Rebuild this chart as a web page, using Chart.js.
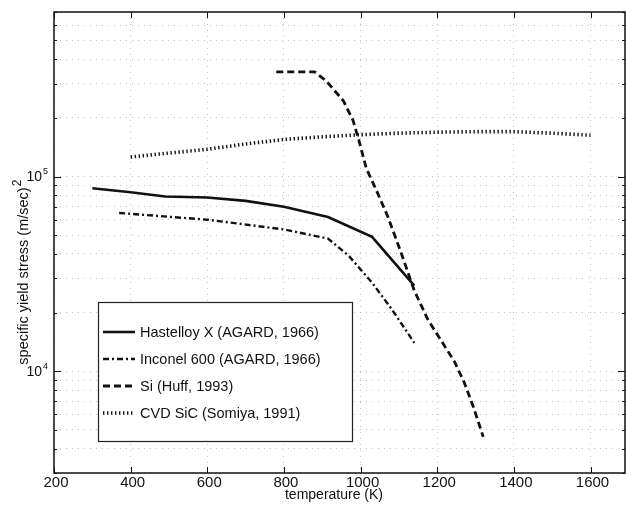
<!DOCTYPE html>
<html>
<head>
<meta charset="utf-8">
<script src="https://cdn.jsdelivr.net/npm/chart.js@4"></script>
<style>
  html, body { margin: 0; padding: 0; background: #fff; }
  #wrap { width: 626px; height: 506px; }
</style>
</head>
<body>
<div id="wrap"><canvas id="yieldChart"></canvas></div>
<script>
// temperature (K) and specific yield stress (m/sec)^2
const hastelloyT = [300, 400, 490, 600, 700, 800, 915, 1030, 1140];
const hastelloyS = [8.7e4, 8.3e4, 7.9e4, 7.8e4, 7.5e4, 7.0e4, 6.2e4, 4.9e4, 2.75e4];

const inconelT = [370, 600, 800, 915, 970, 1030, 1080, 1140];
const inconelS = [6.5e4, 6.0e4, 5.35e4, 4.8e4, 3.9e4, 2.85e4, 2.1e4, 1.4e4];

const siT = [780, 880, 910, 955, 980, 995, 1015, 1040, 1070, 1105, 1140, 1175, 1245, 1270, 1295, 1320];
const siS = [3.45e5, 3.45e5, 3.1e5, 2.45e5, 1.95e5, 1.55e5, 1.1e5, 8.6e4, 6.3e4, 4.1e4, 2.6e4, 1.85e4, 1.12e4, 8.8e3, 6.5e3, 4.6e3];

const sicT = [400, 500, 600, 700, 800, 900, 1000, 1100, 1200, 1300, 1400, 1500, 1600];
const sicS = [1.26e5, 1.32e5, 1.38e5, 1.47e5, 1.55e5, 1.6e5, 1.64e5, 1.67e5, 1.69e5, 1.7e5, 1.7e5, 1.67e5, 1.63e5];

const seriesLabels = ['Hastelloy X (AGARD, 1966)', 'Inconel 600 (AGARD, 1966)', 'Si (Huff, 1993)', 'CVD SiC (Somiya, 1991)'];
const xTicks = [200, 400, 600, 800, 1000, 1200, 1400, 1600];
const yDecades = [1e4, 1e5];
const yMinor = [3e3, 4e3, 5e3, 6e3, 7e3, 8e3, 9e3, 1e4, 2e4, 3e4, 4e4, 5e4, 6e4, 7e4, 8e4, 9e4, 1e5, 2e5, 3e5, 4e5, 5e5, 6e5, 7e5];

const FONT = '"Liberation Sans", Arial, Helvetica, sans-serif';

function pts(xs, ys) {
    return xs.map((x, i) => ({ x: x, y: ys[i] }));
}

// frame, inward ticks, tick labels, axis titles and the boxed legend
const decorations = {
    id: 'decorations',
    afterDraw(chart) {
        const ctx = chart.ctx;
        const a = chart.chartArea;
        const xs = chart.scales.x;
        const ys = chart.scales.y;
        ctx.save();
        ctx.strokeStyle = '#111';
        ctx.fillStyle = '#111';
        ctx.lineWidth = 1.5;
        ctx.strokeRect(a.left, a.top, a.right - a.left, a.bottom - a.top);

        ctx.lineWidth = 1;
        ctx.beginPath();
        xTicks.forEach(t => {
            const px = Math.round(xs.getPixelForValue(t)) + 0.5;
            ctx.moveTo(px, a.bottom); ctx.lineTo(px, a.bottom - 6);
            ctx.moveTo(px, a.top); ctx.lineTo(px, a.top + 6);
        });
        yMinor.forEach(v => {
            const py = Math.round(ys.getPixelForValue(v)) + 0.5;
            const len = yDecades.includes(v) ? 7 : 3;
            ctx.moveTo(a.left, py); ctx.lineTo(a.left + len, py);
            ctx.moveTo(a.right, py); ctx.lineTo(a.right - len, py);
        });
        ctx.stroke();

        // x tick labels
        ctx.font = '15px ' + FONT;
        ctx.textAlign = 'center';
        ctx.textBaseline = 'top';
        xTicks.forEach(t => {
            ctx.fillText(String(t), xs.getPixelForValue(t) + 2, a.bottom + 2);
        });

        // y tick labels 10^4, 10^5
        yDecades.forEach(v => {
            const py = ys.getPixelForValue(v);
            ctx.font = '14px ' + FONT;
            ctx.textAlign = 'right';
            ctx.textBaseline = 'middle';
            ctx.fillText('10', a.left - 12, py + 1);
            ctx.font = '9px ' + FONT;
            ctx.textAlign = 'left';
            ctx.fillText(String(Math.round(Math.log10(v))), a.left - 11, py - 5);
        });

        // x title
        ctx.font = '14px ' + FONT;
        ctx.textAlign = 'center';
        ctx.textBaseline = 'top';
        ctx.fillText('temperature (K)', 334, a.bottom + 15);

        // y title with superscript
        ctx.save();
        ctx.translate(28, 276);
        ctx.rotate(-Math.PI / 2);
        ctx.font = '14.5px ' + FONT;
        ctx.textAlign = 'center';
        ctx.textBaseline = 'alphabetic';
        const main = 'specific yield stress (m/sec)';
        const w = ctx.measureText(main).width;
        ctx.fillText(main, 0, 0);
        ctx.font = '12px ' + FONT;
        ctx.textAlign = 'left';
        ctx.fillText('2', w / 2 + 1, -7);
        ctx.restore();

        // legend box
        const box = { l: 98, t: 302, r: 352, b: 441 };
        ctx.fillStyle = '#fff';
        ctx.fillRect(box.l, box.t, box.r - box.l, box.b - box.t);
        ctx.strokeStyle = '#222';
        ctx.lineWidth = 1.2;
        ctx.strokeRect(box.l + 0.5, box.t + 0.5, box.r - box.l, box.b - box.t);
        ctx.font = '14.5px ' + FONT;
        ctx.textAlign = 'left';
        ctx.textBaseline = 'middle';
        chart.data.datasets.forEach((ds, i) => {
            const y = 332 + i * 27;
            ctx.save();
            ctx.strokeStyle = '#111';
            ctx.lineWidth = ds.borderWidth;
            ctx.setLineDash(ds.borderDash || []);
            ctx.beginPath();
            ctx.moveTo(103, y);
            ctx.lineTo(135, y);
            ctx.stroke();
            ctx.restore();
            ctx.fillStyle = '#111';
            ctx.fillText(ds.label, 140, y + 1);
        });
        ctx.restore();
    }
};

const baseDs = { showLine: true, pointRadius: 0, fill: false, borderColor: '#111', tension: 0 };

new Chart(document.getElementById('yieldChart'), {
    type: 'scatter',
    data: {
        datasets: [
            Object.assign({}, baseDs, { label: seriesLabels[0], data: pts(hastelloyT, hastelloyS), borderWidth: 2.6 }),
            Object.assign({}, baseDs, { label: seriesLabels[1], data: pts(inconelT, inconelS), borderWidth: 2.4, borderDash: [6, 3, 2, 3] }),
            Object.assign({}, baseDs, { label: seriesLabels[2], data: pts(siT, siS), borderWidth: 2.8, borderDash: [7, 4] }),
            Object.assign({}, baseDs, { label: seriesLabels[3], data: pts(sicT, sicS), borderWidth: 3.6, borderDash: [1.4, 2.6] })
        ]
    },
    options: {
        responsive: true,
        maintainAspectRatio: false,
        animation: false,
        layout: { padding: { top: 12, right: 1, left: 0, bottom: 0 } },
        plugins: { legend: { display: false }, tooltip: { enabled: false } },
        scales: {
            x: {
                type: 'linear',
                min: 200,
                max: 1690,
                afterBuildTicks: scale => { scale.ticks = xTicks.map(v => ({ value: v })); },
                afterFit: scale => { scale.height = 33; },
                ticks: { display: false },
                grid: { color: '#b4b4b4', lineWidth: 0.8, drawTicks: false },
                border: { display: false, dash: [1, 5] }
            },
            y: {
                type: 'logarithmic',
                min: 3000,
                max: 7e5,
                afterBuildTicks: scale => { scale.ticks = yMinor.map(v => ({ value: v })); },
                afterFit: scale => { scale.width = 54; },
                ticks: { display: false },
                grid: { color: '#b4b4b4', lineWidth: 0.8, drawTicks: false },
                border: { display: false, dash: [1, 5] }
            }
        }
    },
    plugins: [decorations]
});
</script>
</body>
</html>
